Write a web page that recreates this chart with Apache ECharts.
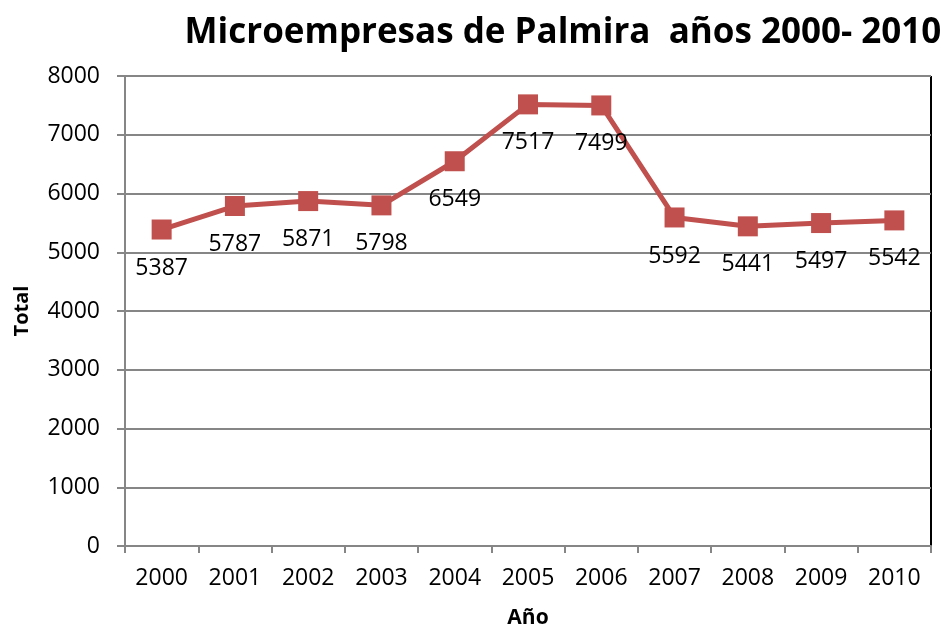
<html>
<head>
<meta charset="UTF-8">
<script src="https://cdn.jsdelivr.net/npm/echarts@6/dist/echarts.min.js"></script>
</head>
<body style="margin:0">
<div id="chart" style="width:952px;height:630px"></div>
<script>
    var years = ['2000', '2001', '2002', '2003', '2004', '2005', '2006', '2007', '2008', '2009', '2010'];
    var totals = [5387, 5787, 5871, 5798, 6549, 7517, 7499, 5592, 5441, 5497, 5542];

    var chart = echarts.init(document.getElementById('chart'));
    var font = 'Open Sans';
    var option = {
        animation: false,
        title: {
            text: 'Microempresas de Palmira  años 2000- 2010',
            left: 558,
            top: 11,
            textAlign: 'center',
            textStyle: {fontFamily: font, fontSize: 35, fontWeight: 'bold', color: '#000'}
        },
        grid: {left: 125, right: 21, top: 76, bottom: 84, containLabel: false, outerBoundsMode: 'none'},
        xAxis: {
            type: 'category',
            data: years,
            name: 'Año',
            nameLocation: 'middle',
            nameGap: 62,
            nameTextStyle: {fontFamily: font, fontSize: 21, fontWeight: 'bold', color: '#000'},
            axisLine: {lineStyle: {color: '#868686', width: 2}},
            axisTick: {show: true, length: 7, lineStyle: {color: '#868686', width: 2}},
            axisLabel: {fontFamily: font, fontSize: 23, color: '#000', margin: 21}
        },
        yAxis: {
            type: 'value',
            min: 0,
            max: 8000,
            interval: 1000,
            name: 'Total',
            nameLocation: 'middle',
            nameGap: 93,
            nameTextStyle: {fontFamily: font, fontSize: 20, fontWeight: 'bold', color: '#000'},
            axisLine: {show: true, lineStyle: {color: '#868686', width: 2}},
            axisTick: {show: true, length: 8, lineStyle: {color: '#868686', width: 2}},
            axisLabel: {
                fontFamily: font, fontSize: 23, color: '#000', margin: 25,
                formatter: function (v) { return String(v); }
            },
            splitLine: {lineStyle: {color: '#868686', width: 2}}
        },
        series: [{
            type: 'line',
            data: totals,
            symbol: 'rect',
            symbolSize: 20,
            itemStyle: {color: '#C0504D'},
            lineStyle: {color: '#C0504D', width: 5},
            label: {
                show: true,
                position: 'bottom',
                distance: 17,
                fontFamily: font,
                fontSize: 23,
                color: '#000'
            }
        }],
        graphic: [
            {type: 'line', shape: {x1: 125, y1: 76, x2: 931, y2: 76}, style: {stroke: '#000', lineWidth: 2}},
            {type: 'line', shape: {x1: 931, y1: 76, x2: 931, y2: 546}, style: {stroke: '#000', lineWidth: 2}}
        ]
    };
    chart.setOption(option);
</script>
</body>
</html>
